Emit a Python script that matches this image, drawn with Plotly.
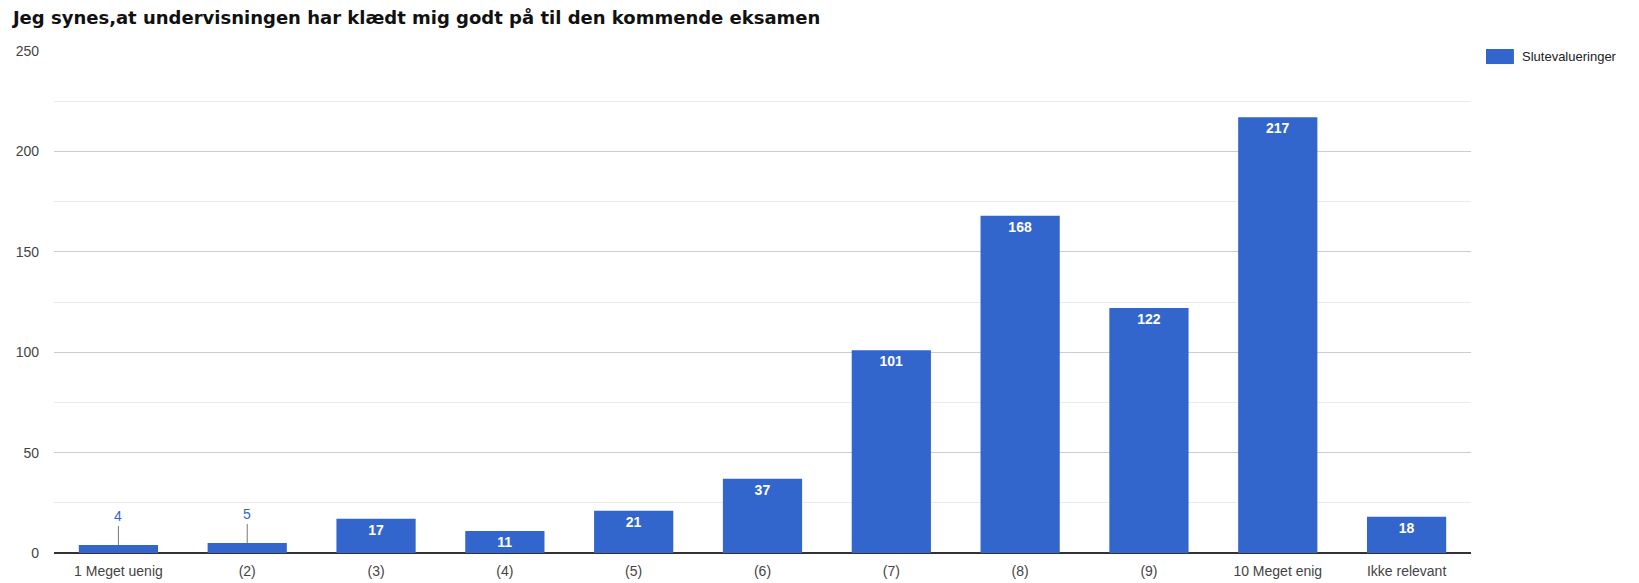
import plotly.graph_objects as go

# ==== data ====
title_text = 'Jeg synes,at undervisningen har klædt mig godt på til den kommende eksamen'
series_name = 'Slutevalueringer'
categories = ['1 Meget uenig', '(2)', '(3)', '(4)', '(5)', '(6)', '(7)', '(8)', '(9)',
              '10 Meget enig', 'Ikke relevant']
counts = [4, 5, 17, 11, 21, 37, 101, 168, 122, 217, 18]

bar_col = '#3366CC'
small_cut = 8  # labels above this go inside the bar

inside_txt = [str(v) if v > small_cut else '' for v in counts]

# page body has an 8px margin, so the figure is a bit smaller than the window
W, H = 1631, 575

fig = go.Figure()
fig.add_trace(go.Bar(
    x=categories, y=counts, name=series_name,
    marker=dict(color=bar_col, line=dict(width=0)),
    text=inside_txt, textposition='inside', insidetextanchor='end',
    textangle=0,
    textfont=dict(family='Liberation Sans', size=14, color='white', weight='bold'),
    showlegend=False,
))

# small values get a label above with a leader line
for c, v in zip(categories, counts):
    if v <= small_cut:
        fig.add_annotation(x=c, y=v, text=str(v), showarrow=True, ax=0, ay=-19,
                           arrowhead=0, arrowwidth=1, arrowcolor='#777',
                           font=dict(family='Liberation Sans', size=14, color=bar_col),
                           yanchor='bottom')

# legend: wide swatch + label, google-charts style
fig.add_shape(type='rect', xref='paper', yref='paper', x0=1.0106, x1=1.0303, y0=0.974, y1=1.004,
              fillcolor=bar_col, line=dict(width=0))
fig.add_annotation(xref='paper', yref='paper', x=1.0346, y=0.989, xanchor='left', yanchor='middle',
                   text=series_name, showarrow=False, font=dict(size=13, color='#222'))

fig.update_layout(
    width=W, height=H,
    paper_bgcolor='white', plot_bgcolor='white',
    margin=dict(l=46, r=168, t=43, b=30),
    bargap=0.385,
    font=dict(family='Liberation Sans', size=14, color='#444'),
    title=dict(text='<b>' + title_text + '</b>', x=0.003, xanchor='left', y=0.983, yanchor='middle',
               font=dict(family='DejaVu Sans', size=18, color='#111')),
)
fig.update_yaxes(range=[0, 250], dtick=50, showgrid=True, gridcolor='#cccccc',
                 minor=dict(dtick=25, showgrid=True, gridcolor='#ebebeb'),
                 zeroline=True, zerolinecolor='#333', zerolinewidth=1.5,
                 ticks='', ticklabelstandoff=14, fixedrange=True, automargin=False)
fig.update_xaxes(showgrid=False, ticks='', ticklabelstandoff=8, automargin=False)

fig.write_html('out.html')
